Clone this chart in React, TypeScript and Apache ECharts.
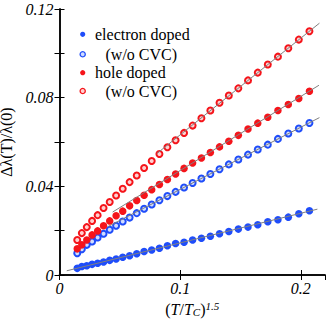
import React, { useEffect, useRef } from "react";
import * as echarts from "echarts";

// x = (T/Tc)^1.5 sample positions
const xValues = [
  0.0147, 0.0185, 0.0226, 0.027, 0.0316, 0.0365, 0.0416, 0.0469, 0.0524, 0.0581,
  0.064, 0.0701, 0.0764, 0.0828, 0.0894, 0.0962, 0.1032, 0.1103, 0.1176, 0.125,
  0.1326, 0.1403, 0.1482, 0.1562, 0.1643, 0.1726, 0.181, 0.1896, 0.1983, 0.2071,
];

const electronDoped = [
  0.003, 0.0038, 0.0042, 0.0048, 0.0053, 0.0059, 0.0066, 0.0072, 0.008, 0.0087,
  0.0096, 0.0106, 0.0113, 0.0121, 0.0132, 0.0142, 0.0148, 0.0158, 0.0166, 0.0175,
  0.0186, 0.0196, 0.0207, 0.0216, 0.0227, 0.024, 0.0249, 0.0261, 0.0276, 0.029,
];

const electronNoCVC = [
  0.0098, 0.0116, 0.0136, 0.0151, 0.0169, 0.0186, 0.0204, 0.0222, 0.0241, 0.0259,
  0.0279, 0.0299, 0.0318, 0.0337, 0.0356, 0.0375, 0.0395, 0.0415, 0.0435, 0.0456,
  0.0477, 0.0499, 0.0521, 0.0543, 0.0566, 0.0588, 0.0614, 0.0638, 0.0661, 0.0686,
];

const holeDoped = [
  0.0118, 0.0136, 0.0158, 0.0181, 0.0199, 0.0222, 0.0244, 0.0267, 0.0288, 0.0312,
  0.0336, 0.036, 0.0385, 0.0408, 0.0431, 0.0456, 0.0481, 0.0505, 0.0528, 0.0553,
  0.0578, 0.0603, 0.063, 0.0659, 0.0685, 0.0712, 0.0742, 0.0769, 0.0796, 0.0829,
];

const holeNoCVC = [
  0.0158, 0.0189, 0.0216, 0.0244, 0.027, 0.0302, 0.0329, 0.0359, 0.0389, 0.0419,
  0.0449, 0.0483, 0.0514, 0.0546, 0.0576, 0.0608, 0.0641, 0.0674, 0.0707, 0.0742,
  0.0777, 0.081, 0.0842, 0.0878, 0.0913, 0.095, 0.0985, 0.1023, 0.1062, 0.11,
];

// fitted straight lines: [x, y] end points
const fitElectron = [[0.006, 0.0019], [0.2137, 0.0297]];
const fitElectronNoCVC = [[0.04, 0.0218], [0.2154, 0.071]];
const fitHole = [[0.044, 0.0284], [0.215, 0.0856]];
const fitHoleNoCVC = [[0.0807, 0.0548], [0.2154, 0.1136]];

const legendLabels = ["electron doped", "(w/o CVC)", "hole doped", "(w/o CVC)"];

const BLUE = "#1f4dfa";
const RED = "#f5141a";
const FONT = "Liberation Serif";

export default function App() {
  const ref = useRef<HTMLDivElement>(null);
  useEffect(() => {
    document.body.style.margin = "0";
    const chart = echarts.init(ref.current!, null, { renderer: "svg" });
    const pts = (ys: number[]) => xValues.map((x, i) => [x, ys[i]]);
    const solid = (name: string, ys: number[], color: string) => ({
      type: "scatter",
      name,
      data: pts(ys),
      symbol: "circle",
      symbolSize: 7.5,
      itemStyle: { color, borderColor: color, borderWidth: 0, opacity: 1 },
      z: 3,
    });
    const open = (name: string, ys: number[], color: string, fill: string) => ({
      type: "scatter",
      name,
      data: pts(ys),
      symbol: "circle",
      symbolSize: 6,
      itemStyle: { color: fill, borderColor: color, borderWidth: 2, opacity: 1 },
      z: 3,
    });
    const fit = (d: number[][]) => ({
      type: "line",
      data: d,
      symbol: "none",
      lineStyle: { color: "#808080", width: 1 },
      z: 4,
      silent: true,
    });
    const legendColors = [
      { fill: BLUE, stroke: BLUE },
      { fill: "#d0dcff", stroke: BLUE },
      { fill: RED, stroke: RED },
      { fill: "#ffd0d0", stroke: RED },
    ];
    const legendY = [34.3, 54.3, 72.7, 91];
    const legendX = [95, 105.5, 95, 105.5];
    const graphic: any[] = [];
    legendLabels.forEach((lab, i) => {
      graphic.push({
        type: "circle",
        shape: { cx: 82.7, cy: legendY[i], r: 2.6 },
        style: {
          fill: legendColors[i].fill,
          stroke: legendColors[i].stroke,
          lineWidth: i % 2 === 1 ? 1.3 : 0,
        },
        z: 10,
      });
      graphic.push({
        type: "text",
        x: legendX[i],
        y: legendY[i],
        style: {
          text: lab,
          fontFamily: FONT,
          fontSize: 16,
          fill: "#000",
          verticalAlign: "middle",
        },
        z: 10,
      });
    });
    const axisCommon = {
      axisLine: { show: true, lineStyle: { color: "#000", width: 1.5 } },
      axisTick: { show: true, inside: true, length: 5, lineStyle: { color: "#000", width: 1 } },
      splitLine: { show: false },
    };
    chart.setOption({
      animation: false,
      backgroundColor: "#fff",
      grid: {
        left: 59.5,
        right: 2,
        top: 9,
        bottom: 46,
        containLabel: false,
        outerBoundsMode: "none",
      },
      graphic,
      xAxis: [
        {
          type: "value",
          min: 0,
          max: 0.22,
          interval: 0.1,
          position: "bottom",
          ...axisCommon,
          axisLabel: {
            margin: 5,
            fontFamily: FONT,
            fontStyle: "italic",
            fontSize: 16,
            color: "#000",
            showMaxLabel: false,
            formatter: (v: number) => {
              const r = Math.round(v * 10) / 10;
              if (Math.abs(v - r) > 1e-6) return "";
              return r === 0 ? "0" : String(r);
            },
          },
          name: "{p|(}{i|T}{p|/}{i|T}{sub|C}{p|)}{sup|1.5}",
          nameLocation: "middle",
          nameGap: 17,
          nameTextStyle: {
            fontFamily: FONT,
            fontSize: 16,
            color: "#000",
            rich: {
              p: { fontFamily: FONT, fontSize: 16, color: "#000" },
              i: { fontFamily: FONT, fontSize: 16, fontStyle: "italic", color: "#000" },
              sub: { fontFamily: FONT, fontSize: 11, fontStyle: "italic", color: "#000", verticalAlign: "bottom", padding: [6, 0, 0, 0] },
              sup: { fontFamily: FONT, fontSize: 11, fontStyle: "italic", color: "#000", verticalAlign: "top", padding: [0, 0, 6, 0] },
            },
          },
        },
        {
          type: "value",
          min: 0,
          max: 0.22,
          interval: 0.1,
          position: "top",
          ...axisCommon,
          axisLabel: { show: false },
        },
      ],
      yAxis: [
        {
          type: "value",
          min: 0,
          max: 0.12,
          interval: 0.02,
          position: "left",
          ...axisCommon,
          axisLabel: {
            margin: 6,
            fontFamily: FONT,
            fontStyle: "italic",
            fontSize: 16,
            color: "#000",
            formatter: (v: number) => {
              const k = Math.round(v / 0.02);
              if (k % 2 !== 0) return "";
              return k === 0 ? "0" : (k * 0.02).toFixed(2);
            },
          },
          name: "Δλ(T)/λ(0)",
          nameLocation: "middle",
          nameRotate: 90,
          nameGap: 40,
          nameTextStyle: { fontFamily: FONT, fontSize: 16, color: "#000" },
        },
        {
          type: "value",
          min: 0,
          max: 0.12,
          interval: 0.02,
          position: "right",
          ...axisCommon,
          axisLabel: { show: false },
        },
      ],
      series: [
        solid("electron doped", electronDoped, BLUE),
        open("electron doped (w/o CVC)", electronNoCVC, BLUE, "#d0dcff"),
        solid("hole doped", holeDoped, RED),
        open("hole doped (w/o CVC)", holeNoCVC, RED, "#ffd0d0"),
        fit(fitElectron),
        fit(fitElectronNoCVC),
        fit(fitHole),
        fit(fitHoleNoCVC),
      ],
    });
    return () => chart.dispose();
  }, []);
  return <div ref={ref} style={{ width: 327, height: 321 }} />;
}
